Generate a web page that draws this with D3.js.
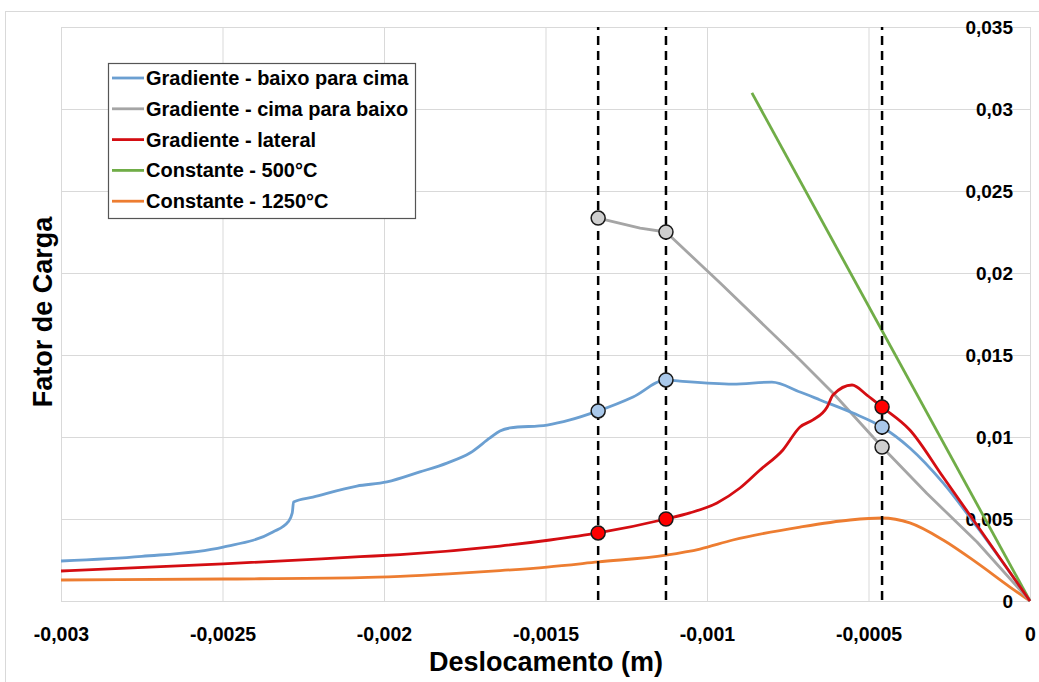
<!DOCTYPE html>
<html>
<head>
<meta charset="utf-8">
<script src="https://cdn.jsdelivr.net/npm/d3@7/dist/d3.min.js"></script>
<style>
  html, body { margin: 0; padding: 0; background: #fff; }
  svg { display: block; }
  text { font-family: "Liberation Sans", Arial, sans-serif; font-weight: bold; fill: #000; }
</style>
</head>
<body>
<svg id="chart" width="1039" height="682"></svg>
<script>
// Displacement (m) vs load factor for each thermal case
const xTicks = [-0.003, -0.0025, -0.002, -0.0015, -0.001, -0.0005, 0];
const yTicks = [0, 0.005, 0.01, 0.015, 0.02, 0.025, 0.03, 0.035];
const xTickLabels = ["-0,003", "-0,0025", "-0,002", "-0,0015", "-0,001", "-0,0005", "0"];
const yTickLabels = ["0", "0,005", "0,01", "0,015", "0,02", "0,025", "0,03", "0,035"];

const seriesNames = [
  "Gradiente - baixo para cima",
  "Gradiente - cima para baixo",
  "Gradiente - lateral",
  "Constante - 500°C",
  "Constante - 1250°C"
];

// [displacement, load factor]
const baixoParaCima = [
  [-0.003, 0.00244], [-0.00275, 0.00272], [-0.002498, 0.00329], [-0.002344, 0.00421],
  [-0.002297, 0.00482], [-0.002284, 0.00537], [-0.00228, 0.00604], [-0.00222, 0.00634],
  [-0.002084, 0.00701], [-0.001991, 0.00726], [-0.001889, 0.00787], [-0.001805, 0.00841],
  [-0.001734, 0.00902], [-0.001672, 0.00994], [-0.001641, 0.01037], [-0.00161, 0.01055],
  [-0.001495, 0.01073], [-0.001424, 0.01104], [-0.001337, 0.01159], [-0.001229, 0.01244],
  [-0.001127, 0.01348], [-0.001084, 0.01341], [-0.00092, 0.01323], [-0.000799, 0.01335],
  [-0.000712, 0.01274], [-0.00065, 0.01226], [-0.000548, 0.01146], [-0.000458, 0.01061],
  [-0.000372, 0.00933], [-0.000269, 0.0072], [-0.000164, 0.00451], [0, 0]
];
const cimaParaBaixo = [
  [-0.001337, 0.02335], [-0.001207, 0.02274], [-0.001127, 0.0225], [-0.00096, 0.0194],
  [-0.000712, 0.0147], [-0.00061, 0.01268], [-0.000458, 0.00939], [-0.000319, 0.00655],
  [-0.000164, 0.0036], [0, 0]
];
const lateral = [
  [-0.003, 0.00183], [-0.002498, 0.00226], [-0.002074, 0.0027], [-0.00195, 0.00283],
  [-0.001641, 0.00335], [-0.001486, 0.00372], [-0.001337, 0.00415], [-0.001127, 0.005],
  [-0.001053, 0.00537], [-0.000969, 0.00598], [-0.000898, 0.00689], [-0.000836, 0.00799],
  [-0.000765, 0.00921], [-0.000712, 0.01061], [-0.000672, 0.01104], [-0.000628, 0.01183],
  [-0.00061, 0.01256], [-0.000551, 0.01317], [-0.000505, 0.01256], [-0.000458, 0.01183],
  [-0.000372, 0.01043], [-0.000269, 0.00756], [-0.000164, 0.00462], [0, 0]
];
const constante500 = [[-0.000861, 0.03098], [0, 0]];
const constante1250 = [
  [-0.003, 0.00128], [-0.002498, 0.00134], [-0.002074, 0.00142], [-0.00195, 0.0015],
  [-0.0018, 0.00165], [-0.001641, 0.00185], [-0.001495, 0.00207], [-0.001337, 0.00238],
  [-0.001127, 0.0028], [-0.001022, 0.00317], [-0.00092, 0.00372], [-0.000712, 0.00451],
  [-0.000557, 0.00494], [-0.000458, 0.00506], [-0.000372, 0.00476], [-0.000269, 0.00372],
  [-0.000164, 0.00232], [-0.000062, 0.00085], [0, 0]
];

// Reference displacements marked with dashed lines
const markerX = [-0.001337, -0.001127, -0.000458];

const seriesData = [baixoParaCima, cimaParaBaixo, lateral, constante500, constante1250];
const lineColors = ["#6b9fd1", "#a5a5a5", "#d40d12", "#70ad47", "#ed7d31"];
const markerFill = ["#a9c8ea", "#cfcfcf", "#ff0000"];

const svg = d3.select("#chart");
const W = 1039, H = 682;
const plot = { left: 61, right: 1030, top: 27, bottom: 601 };

svg.append("rect").attr("width", W).attr("height", H).attr("fill", "#fff");
// chart frame
svg.append("rect")
  .attr("x", 5.5).attr("y", 11.5).attr("width", W).attr("height", H)
  .attr("fill", "none").attr("stroke", "#d9d9d9").attr("stroke-width", 1);

const x = d3.scaleLinear().domain([-0.003, 0]).range([plot.left, plot.right]);
const y = d3.scaleLinear().domain([0, 0.035]).range([plot.bottom, plot.top]);

// gridlines
svg.append("g")
  .attr("transform", `translate(0,${plot.bottom})`)
  .call(d3.axisBottom(x).tickValues(xTicks).tickSize(-(plot.bottom - plot.top)).tickFormat(""))
  .call(g => g.select(".domain").remove())
  .call(g => g.selectAll("line").attr("stroke", "#d9d9d9"));
svg.append("g")
  .attr("transform", `translate(${plot.left},0)`)
  .call(d3.axisLeft(y).tickValues(yTicks).tickSize(-(plot.right - plot.left)).tickFormat(""))
  .call(g => g.select(".domain").remove())
  .call(g => g.selectAll("line").attr("stroke", "#d9d9d9"));

// x tick labels
svg.append("g")
  .attr("transform", `translate(0,${plot.bottom})`)
  .call(d3.axisBottom(x).tickValues(xTicks).tickSize(0).tickPadding(0)
    .tickFormat((d, i) => xTickLabels[i]))
  .call(g => g.select(".domain").remove())
  .call(g => g.selectAll("text")
    .attr("y", 40).attr("dy", 0)
    .style("font-size", "19.5px").style("font-family", "'Liberation Sans', Arial, sans-serif")
    .style("font-weight", "bold").attr("fill", "#000"));

// y tick labels, placed left of the x = 0 axis
svg.append("g")
  .attr("transform", `translate(${plot.right},0)`)
  .call(d3.axisLeft(y).tickValues(yTicks).tickSize(0).tickPadding(17)
    .tickFormat((d, i) => yTickLabels[i]))
  .call(g => g.select(".domain").remove())
  .call(g => g.selectAll("text")
    .style("font-size", "19px").style("font-family", "'Liberation Sans', Arial, sans-serif")
    .style("font-weight", "bold").attr("fill", "#000"));

// series lines: smooth curves for the gradient/1250°C cases, straight for the others
const smoothLine = d3.line().x(d => x(d[0])).y(d => y(d[1])).curve(d3.curveMonotoneX);
const straightLine = d3.line().x(d => x(d[0])).y(d => y(d[1]));
const drawOrder = [4, 3, 1, 0, 2];
drawOrder.forEach(i => {
  svg.append("path")
    .datum(seriesData[i])
    .attr("d", (i === 1 || i === 3) ? straightLine : smoothLine)
    .attr("fill", "none")
    .attr("stroke", lineColors[i])
    .attr("stroke-width", 2.8)
    .attr("stroke-linejoin", "round");
});

// dashed reference lines
svg.append("g").selectAll("line")
  .data(markerX).join("line")
  .attr("x1", d => x(d)).attr("x2", d => x(d))
  .attr("y1", y(0.035)).attr("y2", y(0))
  .attr("stroke", "#000").attr("stroke-width", 2.5)
  .attr("stroke-dasharray", "9,6").attr("stroke-dashoffset", -9);

// markers where the dashed lines meet the gradient curves
const markerPoints = [];
[0, 1, 2].forEach(si => {
  seriesData[si].forEach(p => {
    if (markerX.some(m => Math.abs(m - p[0]) < 1e-9)) markerPoints.push({ p, si });
  });
});
svg.append("g").selectAll("circle")
  .data(markerPoints).join("circle")
  .attr("cx", d => x(d.p[0])).attr("cy", d => y(d.p[1]))
  .attr("r", 7)
  .attr("fill", d => markerFill[d.si])
  .attr("stroke", "#1a1a1a").attr("stroke-width", 1.5);

// axis titles
svg.append("text")
  .attr("x", (plot.left + plot.right) / 2 + 0.5).attr("y", 671)
  .attr("text-anchor", "middle")
  .style("font-size", "27px")
  .text("Deslocamento (m)");
svg.append("text")
  .attr("transform", "translate(52,312) rotate(-90)")
  .attr("text-anchor", "middle")
  .style("font-size", "27px")
  .text("Fator de Carga");

// legend
const legend = svg.append("g").attr("transform", "translate(108,63)");
legend.append("rect")
  .attr("x", 0.5).attr("y", 0.5).attr("width", 307).attr("height", 155)
  .attr("fill", "#fff").attr("stroke", "#555").attr("stroke-width", 1.2);
const rows = legend.selectAll("g.row")
  .data(seriesNames).join("g")
  .attr("class", "row")
  .attr("transform", (d, i) => `translate(0,${15 + i * 30.8})`);
rows.append("line")
  .attr("x1", 4).attr("x2", 36).attr("y1", 0).attr("y2", 0)
  .attr("stroke", (d, i) => lineColors[i]).attr("stroke-width", 2.8);
rows.append("text")
  .attr("x", 38).attr("y", 0).attr("dy", "0.35em")
  .style("font-size", "20px")
  .text(d => d);
</script>
</body>
</html>
